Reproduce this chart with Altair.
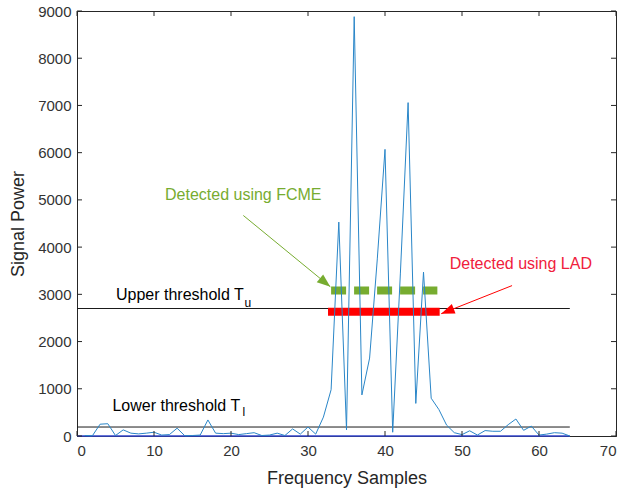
import altair as alt
import pandas as pd
import math

# ---------------- data ----------------
samples = list(range(1, 65))
power = [10, 5, 250, 260, 10, 130, 60, 45, 60, 80,
         20, 30, 165, 5, 10, 20, 340, 60, 50, 60,
         30, 50, 70, 10, 20, 60, 10, 150, 40, 190,
         40, 400, 980, 4530, 130, 8880, 870, 1650, 3750, 6070,
         80, 3450, 7060, 690, 3470, 800, 560, 230, 70, 30,
         110, 20, 115, 100, 100, 240, 360, 120, 210, 20,
         40, 70, 60, 0]

upper_threshold = 2700
lower_threshold = 190
threshold_span = [0, 64]

fcme_span = [33, 46.8]
fcme_level = 3080
lad_span = [32.6, 47.1]
lad_level = 2630

x_ticks = [0, 10, 20, 30, 40, 50, 60, 70]
y_ticks = [0, 1000, 2000, 3000, 4000, 5000, 6000, 7000, 8000, 9000]

W, H = 539, 425
XMAX, YMAX = 70, 9000

xs = alt.Scale(domain=[0, XMAX], nice=False, zero=False)
ys = alt.Scale(domain=[0, YMAX], nice=False, zero=False)

sig = pd.DataFrame({"x": samples, "p": power})

# threshold lines
thr = pd.DataFrame({
    "x": [threshold_span[0]] * 2,
    "x2": [threshold_span[1]] * 2,
    "y": [upper_threshold, lower_threshold],
})
base = alt.Chart(thr).mark_rule(color="#1a1a1a", strokeWidth=1).encode(
    x=alt.X("x:Q", scale=xs, axis=alt.Axis(values=x_ticks, ticks=False, grid=False, format="d",
                                           title="Frequency Samples", labelPadding=7,
                                           titlePadding=11)),
    x2="x2:Q",
    y=alt.Y("y:Q", scale=ys, axis=alt.Axis(values=y_ticks, ticks=False, grid=False, format="d",
                                           title="Signal Power", labelPadding=6,
                                           titlePadding=10)),
)

zero_line = alt.Chart(pd.DataFrame({"x": [0], "x2": [64], "y": [0]})).mark_rule(
    color="#3344cc", strokeWidth=1.6).encode(x="x:Q", x2="x2:Q", y="y:Q")

lad = alt.Chart(pd.DataFrame({"x": [lad_span[0]], "x2": [lad_span[1]], "y": [lad_level]})).mark_rule(
    color="#ff0000", strokeWidth=8).encode(x="x:Q", x2="x2:Q", y="y:Q")

fcme = alt.Chart(pd.DataFrame({"x": [fcme_span[0]], "x2": [fcme_span[1]], "y": [fcme_level]})).mark_rule(
    color="#77AC30", strokeWidth=8, strokeDash=[15, 8]).encode(x="x:Q", x2="x2:Q", y="y:Q")

line = alt.Chart(sig).mark_line(color="#2a86c8", strokeWidth=1).encode(
    x="x:Q", y="p:Q")

# arrows
def arrow(x0, y0, x1, y1, color, size):
    dx = (x1 - x0) * W / XMAX
    dy = -(y1 - y0) * H / YMAX
    ang = math.degrees(math.atan2(dx, -dy)) % 360
    df = pd.DataFrame({"x": [x0], "y": [y0], "x2": [x1], "y2": [y1]})
    shaft = alt.Chart(df).mark_rule(color=color, strokeWidth=1).encode(
        x="x:Q", y="y:Q", x2="x2:Q", y2="y2:Q")
    head = alt.Chart(pd.DataFrame({"x": [x1], "y": [y1]})).mark_point(
        shape="M0,0L-0.75,2L0.75,2Z", filled=True, color=color, opacity=1,
        size=size, angle=ang, strokeWidth=0).encode(x="x:Q", y="y:Q")
    return shaft + head

green_arrow = arrow(21.6, 4670, 32.9, 3160, "#77AC30", 180)
red_arrow = arrow(56.5, 3185, 47.3, 2590, "#ff0000", 180)

# texts
FONT = "Liberation Sans"
labels = pd.DataFrame({
    "x": [11.43, 48.4, 5.06, 4.6],
    "y": [5104, 3643, 2986, 642],
    "t": ["Detected using FCME", "Detected using LAD", "Upper threshold T", "Lower threshold T"],
    "c": ["#77AC30", "#f0203c", "#000000", "#000000"],
})
texts = alt.Chart(labels).mark_text(align="left", baseline="middle", font=FONT, fontSize=16).encode(
    x="x:Q", y="y:Q", text="t:N", color=alt.Color("c:N", scale=None))

subs = pd.DataFrame({"x": [21.75, 21.5], "y": [2810, 515], "t": ["u", "l"]})
subtexts = alt.Chart(subs).mark_text(align="left", baseline="middle", font=FONT, fontSize=12,
                                     color="#000000").encode(x="x:Q", y="y:Q", text="t:N")

# inward ticks
TL = 5
xt = pd.DataFrame({"v": x_ticks})
yt = pd.DataFrame({"v": y_ticks})
tick_col = "#262626"
xb = alt.Chart(xt).mark_rule(color=tick_col).encode(x="v:Q", y=alt.value(H), y2=alt.value(H - TL))
xtop = alt.Chart(xt).mark_rule(color=tick_col).encode(x="v:Q", y=alt.value(0), y2=alt.value(TL))
yl = alt.Chart(yt).mark_rule(color=tick_col).encode(y="v:Q", x=alt.value(0), x2=alt.value(TL))
yr = alt.Chart(yt).mark_rule(color=tick_col).encode(y="v:Q", x=alt.value(W), x2=alt.value(W - TL))

chart = alt.layer(
    base, lad, fcme, zero_line, line, green_arrow, red_arrow, texts, subtexts,
    xb, xtop, yl, yr
).properties(
    width=W, height=H,
    autosize=alt.AutoSizeParams(type="none"),
    padding={"left": 77, "top": 11, "right": 10, "bottom": 59},
    background="white",
).configure_view(
    stroke="#262626", strokeWidth=1
).configure_axis(
    domainColor="#262626", labelColor="#333333", titleColor="#262626",
    labelFont=FONT, titleFont=FONT, labelFontSize=15, titleFontSize=18,
    titleFontWeight="normal", domainWidth=1
)

chart.save("out.html", embed_options={"renderer": "svg", "actions": False})
